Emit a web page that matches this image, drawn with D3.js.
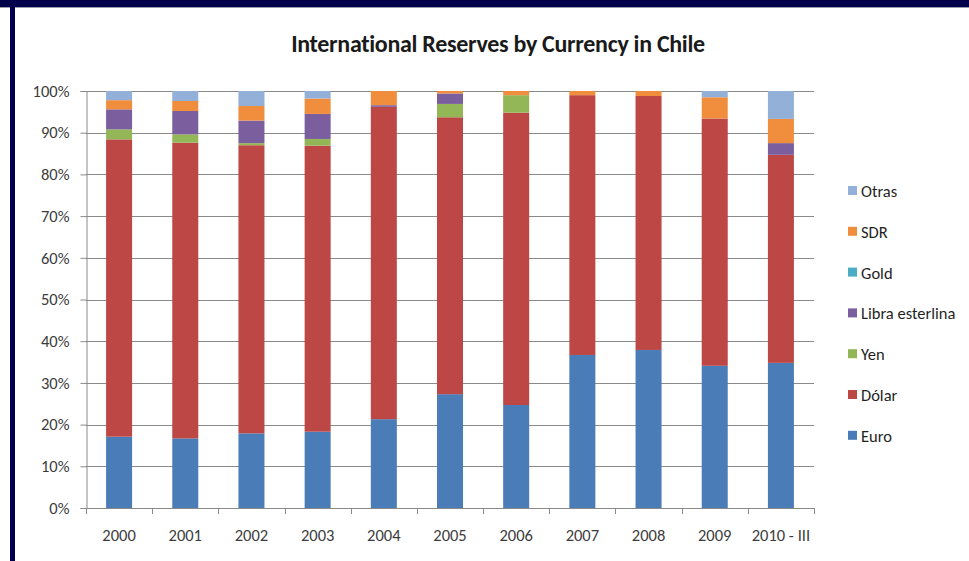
<!DOCTYPE html>
<html>
<head>
<meta charset="utf-8">
<script src="https://cdn.jsdelivr.net/npm/d3@7/dist/d3.min.js"></script>
<style>
  html, body { margin: 0; padding: 0; background: #ffffff; }
  svg { display: block; }
  text { font-family: Carlito, Lato, "Open Sans", sans-serif; }
</style>
</head>
<body>
<svg id="chart" width="969" height="561"></svg>
<script>
// Years on the category axis
const categories = ["2000", "2001", "2002", "2003", "2004", "2005", "2006", "2007", "2008", "2009", "2010 - III"];

// Share of reserves per currency (percent), bottom to top of each stack
const euro   = [17.1, 16.7, 17.9, 18.3, 21.3, 27.3, 24.7, 36.7, 37.9, 34.1, 34.8];
const dolar  = [71.3, 70.9, 69.1, 68.6, 74.9, 66.4, 70.1, 62.3, 60.9, 59.3, 49.9];
const yen    = [2.4, 2.0, 0.5, 1.6, 0.0, 3.2, 4.2, 0.0, 0.0, 0.0, 0.0];
const libra  = [4.8, 5.6, 5.4, 6.0, 0.4, 2.5, 0.0, 0.0, 0.0, 0.0, 2.8];
const gold   = [0.0, 0.0, 0.0, 0.0, 0.0, 0.0, 0.0, 0.0, 0.0, 0.0, 0.0];
const sdr    = [2.2, 2.4, 3.5, 3.7, 3.4, 0.6, 1.0, 1.0, 1.2, 5.1, 5.8];
const otras  = [2.2, 2.4, 3.6, 1.8, 0.0, 0.0, 0.0, 0.0, 0.0, 1.5, 6.7];

const seriesNames = ["Euro", "Dólar", "Yen", "Libra esterlina", "Gold", "SDR", "Otras"];
const seriesValues = [euro, dolar, yen, libra, gold, sdr, otras];
const seriesColors = ["#4A7CB8", "#BC4744", "#93B656", "#7A5E9E", "#4BACC6", "#F08E3E", "#93B0D8"];

const yTicks = [0, 0.1, 0.2, 0.3, 0.4, 0.5, 0.6, 0.7, 0.8, 0.9, 1.0];

const title = "International Reserves by Currency in Chile";

// Row table for the stack layout
const rows = categories.map((c, i) => {
  const r = { cat: c };
  seriesNames.forEach((s, k) => { r[s] = seriesValues[k][i]; });
  return r;
});

const svg = d3.select("#chart");

// Slide frame: dark band along the top and a rule down the left side
svg.append("rect").attr("x", 0).attr("y", 0).attr("width", 969).attr("height", 7).attr("fill", "#00004a");
svg.append("rect").attr("x", 0).attr("y", 7).attr("width", 969).attr("height", 1).attr("fill", "#9a9aa8");
svg.append("rect").attr("x", 10).attr("y", 0).attr("width", 5).attr("height", 561).attr("fill", "#00004a");

const plot = { left: 86, right: 814, top: 91, bottom: 508 };

const x = d3.scaleBand()
  .domain(categories)
  .range([plot.left, plot.right])
  .paddingInner(0.607)
  .paddingOuter(0.3035);

const y = d3.scaleLinear().domain([0, 1]).range([plot.bottom, plot.top]);

const stack = d3.stack().keys(seriesNames).offset(d3.stackOffsetExpand);
const layers = stack(rows);

// Horizontal gridlines
svg.append("g")
  .selectAll("line")
  .data(yTicks.filter(t => t > 0))
  .join("line")
  .attr("x1", plot.left).attr("x2", plot.right)
  .attr("y1", d => Math.round(y(d)) + 0.5).attr("y2", d => Math.round(y(d)) + 0.5)
  .attr("stroke", "#8a8a8a").attr("stroke-width", 1);

// Stacked bars
svg.append("g")
  .selectAll("g")
  .data(layers)
  .join("g")
  .attr("fill", (d, i) => seriesColors[i])
  .selectAll("rect")
  .data(d => d)
  .join("rect")
  .attr("x", d => x(d.data.cat))
  .attr("width", x.bandwidth())
  .attr("y", d => y(d[1]))
  .attr("height", d => Math.max(0, y(d[0]) - y(d[1])));

// Y axis
const yAxis = d3.axisLeft(y)
  .tickValues(yTicks)
  .tickFormat(d3.format(".0%"))
  .tickSize(6)
  .tickPadding(11);
const gy = svg.append("g").attr("transform", `translate(${plot.left + 0.5},0)`).call(yAxis);
gy.select(".domain").attr("stroke", "#8a8a8a");
gy.selectAll(".tick line").attr("stroke", "#8a8a8a");
gy.selectAll(".tick text").attr("fill", "#3c3c3c").style("font-size", "16.5px");

// X axis: ticks sit on the band boundaries, labels centred under each bar
const step = x.step();
const boundaries = d3.range(categories.length + 1).map(i => plot.left + i * step);
const gx = svg.append("g");
gx.append("line")
  .attr("x1", plot.left).attr("x2", plot.right)
  .attr("y1", plot.bottom + 0.5).attr("y2", plot.bottom + 0.5)
  .attr("stroke", "#8a8a8a");
gx.selectAll("line.tk")
  .data(boundaries)
  .join("line")
  .attr("class", "tk")
  .attr("x1", d => Math.round(d) + 0.5).attr("x2", d => Math.round(d) + 0.5)
  .attr("y1", plot.bottom).attr("y2", plot.bottom + 6)
  .attr("stroke", "#8a8a8a");
gx.selectAll("text")
  .data(categories)
  .join("text")
  .attr("x", d => x(d) + x.bandwidth() / 2)
  .attr("y", 541)
  .attr("text-anchor", "middle")
  .attr("fill", "#3c3c3c")
  .style("font-size", "16.5px")
  .text(d => d);

// Title
svg.append("text")
  .attr("x", 498)
  .attr("y", 52)
  .attr("text-anchor", "middle")
  .attr("fill", "#1a1a1a")
  .style("font-size", "24px")
  .style("font-weight", "bold")
  .style("letter-spacing", "-0.3px")
  .text(title);

// Legend, listed top-down in reverse stacking order
const legendOrder = seriesNames.map((s, i) => i).reverse();
const lg = svg.append("g");
const item = lg.selectAll("g")
  .data(legendOrder)
  .join("g")
  .attr("transform", (d, j) => `translate(848, ${191 + j * 40.8})`);
item.append("rect")
  .attr("x", 0).attr("y", -5).attr("width", 9).attr("height", 9)
  .attr("fill", d => seriesColors[d]);
item.append("text")
  .attr("x", 13).attr("y", 6)
  .attr("fill", "#1f1f1f")
  .style("font-size", "16.5px")
  .text(d => seriesNames[d]);
</script>
</body>
</html>
